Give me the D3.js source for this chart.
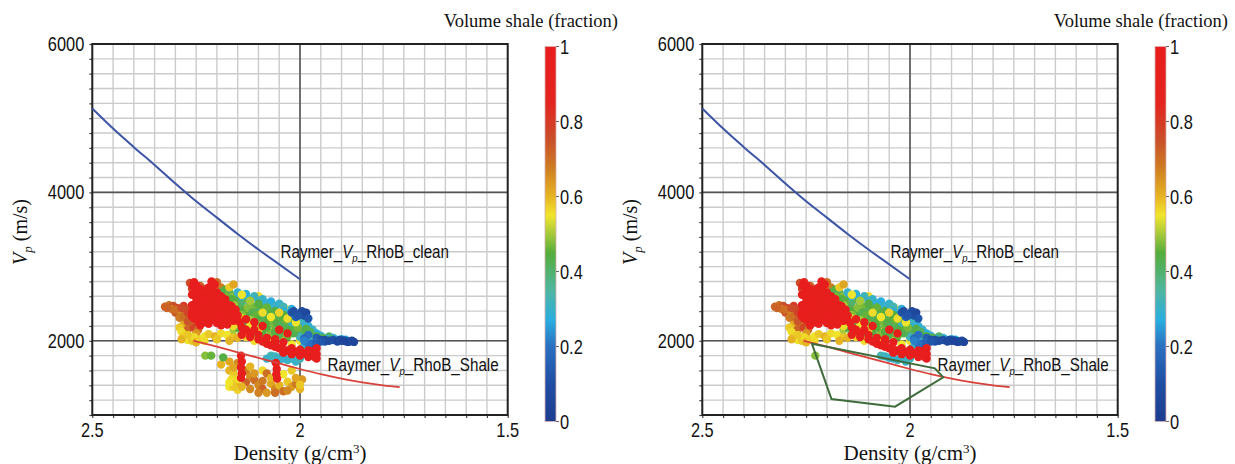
<!DOCTYPE html>
<html>
<head>
<meta charset="utf-8">
<script src="https://cdn.jsdelivr.net/npm/d3@7"></script>
<style>
  body { margin: 0; background: #fff; }
  .tick-num { font-family: "Liberation Sans", Arial, sans-serif; font-size: 20px; fill: #111; }
  .serif { font-family: "Liberation Serif", "Times New Roman", serif; fill: #111; }
  .note { font-family: "Liberation Sans", Arial, sans-serif; font-size: 17.5px; fill: #111; }
</style>
</head>
<body>
<div id="chart"></div>
<script>
// tick labels
var xTickLabels = [2.5, 2, 1.5];
var yTickLabels = [2000, 4000, 6000];
var cbTickLabels = [0, 0.2, 0.4, 0.6, 0.8, 1];

// colour map of volume shale
var cmapStops = [0, 0.1, 0.2, 0.27, 0.35, 0.45, 0.5, 0.55, 0.6, 0.68, 0.75, 0.85, 1];
var cmapColors = ["#1d3c8f", "#1f4ea3", "#2a6fc0", "#2aaee0", "#4fb6a0", "#55ad3a", "#a5c93a",
                  "#f1e52c", "#e6b422", "#cd7a22", "#c9502a", "#e3241f", "#e81c1c"];

// Raymer trend lines  [density, Vp]
var raymerClean = [[2.5, 5130], [2.45, 4860], [2.4, 4610], [2.35, 4370], [2.3, 4120], [2.25, 3880],
                   [2.2, 3660], [2.15, 3440], [2.1, 3230], [2.05, 3030], [2.0, 2830]];
var raymerShale = [[2.256, 2000], [2.2, 1920], [2.15, 1845], [2.1, 1770], [2.05, 1695], [2.0, 1620],
                   [1.95, 1550], [1.9, 1490], [1.85, 1440], [1.8, 1400], [1.76, 1375]];

// polygon drawn on the right panel [density, Vp]
var shalePolygon = [[2.236, 1960], [1.94, 1629], [1.92, 1508], [2.036, 1112], [2.189, 1216]];

// well log points [density, Vp, Vsh]
var orangeLeft = [[2.325,2460,0.72],[2.315,2480,0.7],[2.305,2470,0.75],[2.31,2430,0.68],[2.295,2440,0.78],
  [2.29,2400,0.7],[2.3,2380,0.74],[2.285,2360,0.66],[2.28,2470,0.8],[2.275,2420,0.76],[2.27,2330,0.72],
  [2.29,2310,0.68],[2.275,2280,0.74],[2.26,2250,0.7],[2.265,2200,0.66],[2.28,2220,0.62],[2.27,2150,0.72],
  [2.255,2180,0.78],[2.245,2150,0.7],[2.25,2100,0.64],[2.265,2780,0.76],[2.24,2740,0.72],[2.2,2790,0.7],
  [2.19,2720,0.68],[2.23,2700,0.74],[2.26,2700,0.78],[2.32,2440,0.72],[2.3,2420,0.7],[2.285,2440,0.76],
  [2.28,2330,0.7],[2.27,2380,0.78],[2.27,2260,0.74]];
var yellowLow = [[2.29,2180,0.58],[2.285,2120,0.56],[2.28,2060,0.57],[2.27,2010,0.55],[2.285,2020,0.6],
  [2.26,2000,0.58],[2.255,2050,0.56],[2.25,1980,0.6],[2.24,2020,0.57],[2.23,2060,0.55],[2.22,2090,0.58],
  [2.205,2060,0.6],[2.19,2100,0.56],[2.175,2080,0.55],[2.16,2060,0.58],[2.15,2040,0.6],[2.12,2300,0.56],
  [2.08,2250,0.58],[2.06,2150,0.55],[2.1,2600,0.56],[2.14,2470,0.58],[2.03,2420,0.56],[2.04,2050,0.58],
  [2.0,2000,0.56],[1.98,1950,0.6]];
var yellowMid = [[2.17,2350,0.55],[2.16,2200,0.56],[2.14,2300,0.57],[2.12,2200,0.55],[2.1,2150,0.58],
  [2.09,2380,0.56],[2.07,2320,0.55],[2.05,2380,0.57],[2.03,2300,0.56],[2.01,2250,0.55],[2.11,2000,0.56],
  [2.07,1980,0.58],[2.02,1950,0.55],[2.13,2050,0.57],[2.17,2000,0.6],[2.2,2020,0.58],[2.23,2000,0.56],
  [2.27,2080,0.58],[2.14,2620,0.55],[2.17,2720,0.58],[2.16,2760,0.62]];
var lowerScatter = [[2.17,1600,0.6],[2.16,1560,0.58],[2.165,1480,0.56],[2.155,1420,0.62],[2.17,1380,0.55],
  [2.15,1340,0.57],[2.13,1600,0.68],[2.12,1520,0.65],[2.11,1470,0.7],[2.1,1400,0.66],[2.09,1350,0.72],
  [2.08,1300,0.64],[2.07,1420,0.62],[2.06,1350,0.66],[2.05,1400,0.6],[2.04,1320,0.7],[2.03,1450,0.58],
  [2.02,1380,0.63],[2.01,1420,0.68],[2.0,1350,0.6],[1.995,1480,0.64],[2.12,1650,0.6],[2.09,1600,0.56],
  [2.08,1560,0.7],[2.04,1550,0.55],[2.02,1600,0.58],[2.13,1440,0.72],[2.1,1300,0.67],[2.15,1700,0.66],
  [2.19,1680,0.6],[2.17,1720,0.62],[2.228,1800,0.48],[2.214,1800,0.46],[2.185,1777,0.44],
  [2.16,1640,0.62],[2.14,1380,0.6],[2.12,1350,0.66],[2.11,1560,0.64],[2.09,1460,0.68],[2.07,1500,0.6],
  [2.06,1300,0.7],[2.03,1330,0.66],[2.01,1500,0.62],[2.0,1410,0.58],[2.15,1480,0.56],[2.16,1380,0.58],
  [2.17,1440,0.55]];
var greenBand = [[2.18,2690,0.45],[2.17,2650,0.42],[2.16,2600,0.48],[2.15,2550,0.44],[2.14,2520,0.4],
  [2.13,2580,0.46],[2.12,2490,0.43],[2.11,2450,0.47],[2.1,2400,0.42],[2.09,2470,0.45],[2.08,2380,0.41],
  [2.07,2420,0.44],[2.06,2350,0.46],[2.05,2300,0.43],[2.04,2260,0.45],[2.03,2210,0.42],[2.02,2180,0.44],
  [2.01,2150,0.46],[2.0,2120,0.4],[1.99,2100,0.42],[2.12,2350,0.44],[2.1,2300,0.46],[2.08,2250,0.43],
  [2.06,2200,0.47],[2.04,2150,0.44],[2.15,2250,0.45],[2.13,2200,0.42],[2.11,2150,0.48],[2.09,2100,0.44],
  [2.07,2050,0.46],[2.16,2150,0.5],[2.14,2100,0.47],[2.17,2400,0.46],[2.16,2320,0.48],[1.97,2080,0.42],
  [1.95,2050,0.4],[1.93,2060,0.41]];
var greenFill = [[2.165,2560,0.44],[2.155,2480,0.46],[2.145,2440,0.42],[2.135,2400,0.45],[2.125,2440,0.48],
  [2.115,2380,0.43],[2.105,2340,0.46],[2.095,2300,0.44],[2.085,2320,0.42],[2.075,2280,0.45],[2.065,2260,0.47],
  [2.055,2240,0.44],[2.045,2210,0.42],[2.035,2280,0.46],[2.025,2120,0.45],[2.015,2100,0.43],[2.005,2180,0.47],
  [2.15,2180,0.44],[2.13,2140,0.46],[2.11,2100,0.42],[2.09,2060,0.45],[2.07,2110,0.48],[2.05,2080,0.43],
  [2.03,2060,0.46],[2.16,2480,0.5],[2.14,2350,0.48],[2.12,2280,0.5],[2.1,2220,0.47],[2.08,2180,0.45],
  [2.06,2120,0.44],[2.18,2600,0.47],[2.17,2540,0.45],[2.19,2650,0.43],[1.985,2160,0.44],[1.975,2120,0.42],
  [1.96,2060,0.45],[1.945,2040,0.43],[1.925,2020,0.4],[2.12,2540,0.5],[2.1,2500,0.44],[2.08,2450,0.46],
  [2.06,2400,0.44],[2.04,2350,0.45],[2.02,2300,0.43]];
var cyanBand = [[2.15,2650,0.3],[2.13,2630,0.28],[2.11,2600,0.32],[2.09,2560,0.3],[2.07,2530,0.27],
  [2.05,2500,0.3],[2.04,2460,0.33],[2.02,2430,0.28],[2.06,2420,0.32],[2.03,2370,0.3],[2.01,2330,0.27],
  [2.0,2280,0.3],[1.99,2250,0.33],[1.98,2200,0.28],[2.02,2250,0.31],[2.05,2200,0.34],[1.97,2150,0.3],
  [1.96,2100,0.27],[1.95,2070,0.3],[1.94,2030,0.28],[1.92,2040,0.3],[1.9,2020,0.26],[2.0,2050,0.32],
  [1.98,2000,0.3],[2.07,1800,0.33],[2.05,1770,0.3],[2.03,1740,0.32],[2.01,1720,0.3],[2.06,1720,0.31],
  [2.04,1850,0.29],[2.02,1800,0.3],[2.0,1870,0.28],[1.99,1920,0.31],[2.14,2600,0.3],[2.12,2560,0.29],
  [2.1,2540,0.31],[2.08,2500,0.28],[2.06,2470,0.3],[2.04,2400,0.29],[2.02,2350,0.3],[2.0,2310,0.31],
  [1.99,2200,0.29],[1.98,2150,0.3],[1.97,2100,0.28],[1.96,2020,0.3],[1.95,2000,0.29],[1.93,2020,0.27],
  [1.91,2010,0.29],[1.89,2015,0.26],[2.08,1760,0.3],[2.06,1790,0.31],[2.04,1760,0.29],[2.02,1760,0.3],
  [2.0,1760,0.32],[2.05,1740,0.3]];
var blueTail = [[2.02,2380,0.12],[2.0,2360,0.08],[1.99,2340,0.1],[1.985,2380,0.06],[2.01,2320,0.15],
  [1.98,2300,0.12],[1.96,2040,0.15],[1.95,2010,0.1],[1.94,1990,0.12],[1.93,2000,0.08],[1.92,2010,0.1],
  [1.91,1990,0.06],[1.9,2000,0.08],[1.89,1995,0.05],[1.88,1990,0.08],[1.875,2000,0.06],[1.87,1985,0.05],
  [1.96,1980,0.18],[1.98,2080,0.2],[1.97,1960,0.15],[1.99,2030,0.18],[2.015,2400,0.1],[1.995,2400,0.07],
  [2.005,2340,0.12],[1.905,2010,0.08],[1.885,1985,0.06],[1.895,2005,0.05],[1.94,2010,0.1],[1.95,1990,0.13],
  [1.98,1960,0.2],[1.99,2000,0.22]];
var redLow = [[2.1,2020,0.95],[2.09,1990,0.92],[2.08,1960,0.95],[2.07,1940,0.98],[2.06,1920,0.95],
  [2.05,1900,0.97],[2.04,1880,0.95],[2.03,1870,0.98],[2.02,1860,0.96],[2.01,1850,0.95],[2.0,1840,0.97],
  [1.99,1830,0.95],[1.98,1820,0.98],[1.97,1810,0.96],[1.965,1780,0.95],[1.96,1760,0.97],[2.0,1800,0.96],
  [2.02,1820,0.95],[2.04,1840,0.97],[1.98,1780,0.95],[1.97,1860,0.98],[1.96,1900,0.95],[2.12,2050,0.95],
  [2.14,2080,0.93],[2.11,2150,0.96],[2.06,2020,0.94],[2.04,1980,0.96],[2.142,1800,0.95],[2.14,1720,0.96],
  [2.142,1640,0.95],[2.14,1560,0.97],[2.142,1500,0.95],[2.058,1700,0.96],[2.056,1620,0.95],
  [2.057,1550,0.97],[2.055,1490,0.95],[2.12,2100,0.96],[2.1,2080,0.95],[2.08,2040,0.97],[2.06,1980,0.95],
  [2.02,1900,0.96],[2.0,1880,0.95],[1.98,1870,0.97],[1.97,1840,0.95],[1.96,1820,0.96],[2.13,2150,0.95],
  [2.11,2250,0.96],[2.09,2200,0.95],[2.05,2150,0.96],[2.03,2100,0.95]];
var redCore = [[2.255,2790,0.95],[2.258,2740,0.97],[2.25,2700,0.95],[2.245,2650,0.98],[2.26,2620,0.95],
  [2.25,2580,0.97],[2.24,2600,0.95],[2.235,2550,0.98],[2.25,2520,0.96],[2.26,2480,0.95],[2.245,2460,0.97],
  [2.23,2500,0.95],[2.22,2550,0.98],[2.215,2620,0.95],[2.212,2700,0.97],[2.213,2800,0.95],[2.205,2760,0.96],
  [2.2,2650,0.95],[2.195,2580,0.97],[2.205,2520,0.95],[2.21,2470,0.98],[2.22,2420,0.95],[2.235,2400,0.97],
  [2.25,2420,0.95],[2.26,2380,0.96],[2.245,2340,0.95],[2.23,2320,0.97],[2.215,2360,0.95],[2.2,2400,0.98],
  [2.19,2450,0.95],[2.18,2500,0.97],[2.175,2430,0.95],[2.185,2370,0.96],[2.2,2320,0.95],[2.215,2280,0.97],
  [2.23,2250,0.95],[2.245,2270,0.98],[2.255,2300,0.95],[2.2,2240,0.97],[2.185,2280,0.95],[2.17,2330,0.96],
  [2.165,2380,0.95],[2.16,2270,0.97],[2.175,2220,0.95],[2.155,2420,0.96],[2.15,2340,0.95],[2.23,2600,0.97],
  [2.225,2680,0.95],[2.24,2480,0.96],[2.21,2560,0.95],[2.19,2520,0.97],[2.225,2370,0.95],[2.24,2210,0.96],
  [2.26,2330,0.95],[2.145,2250,0.97],[2.13,2290,0.95],[2.14,2180,0.96],[2.25,2620,0.97],[2.24,2560,0.95],
  [2.23,2450,0.96],[2.22,2480,0.95],[2.21,2400,0.97],[2.2,2470,0.95],[2.19,2390,0.96],[2.18,2440,0.95],
  [2.17,2480,0.97],[2.21,2320,0.95],[2.195,2350,0.96],[2.24,2380,0.95],[2.25,2360,0.97],[2.235,2290,0.95],
  [2.22,2230,0.96],[2.19,2210,0.95],[2.2,2550,0.97],[2.215,2500,0.95],[2.23,2560,0.96],[2.245,2500,0.95],
  [2.255,2440,0.97],[2.21,2650,0.95],[2.22,2720,0.96],[2.24,2700,0.95],[2.25,2750,0.97],[2.19,2600,0.95],
  [2.18,2560,0.96],[2.165,2470,0.95],[2.16,2330,0.97],[2.17,2270,0.95]];

var groups = [orangeLeft, yellowLow, lowerScatter, greenBand, cyanBand, greenFill, yellowMid, blueTail, redLow, redCore];

var W = 1235, H = 464;
var svg = d3.select("#chart").append("svg").attr("width", W).attr("height", H);

var x = d3.scaleLinear().domain([2.5, 1.5]).range([92.3, 507.7]);
var y = d3.scaleLinear().domain([1000, 6000]).range([415, 44]);
var cb = d3.scaleLinear().domain([0, 1]).range([421.5, 46.5]);
var color = d3.scaleLinear().domain(cmapStops).range(cmapColors);

var xGrid = d3.range(0, 21).map(function(i) { return +(1.5 + i * 0.05).toFixed(2); });
var yGrid = d3.range(1000, 6001, 200);

// horizontally squeezed sans text (the figure uses a narrow face)
function narrow(sel, px, py, sx) {
  return sel.append("text").attr("transform", "translate(" + px + "," + py + ") scale(" + sx + ",1)");
}

// gradient for the colour bars
var grad = svg.append("defs").append("linearGradient")
  .attr("id", "vshGrad").attr("x1", 0).attr("y1", 1).attr("x2", 0).attr("y2", 0);
grad.selectAll("stop").data(cmapStops).enter().append("stop")
  .attr("offset", function(d) { return d; })
  .attr("stop-color", function(d, i) { return cmapColors[i]; });

var panelOffsets = [0, 610];

panelOffsets.forEach(function(off, pi) {
  var g = svg.append("g").attr("transform", "translate(" + off + ",0)");

  g.append("clipPath").attr("id", "clip" + pi).append("rect")
    .attr("x", x(2.5)).attr("y", y(6000))
    .attr("width", x(1.5) - x(2.5)).attr("height", y(1000) - y(6000));

  // minor grid
  g.append("g").selectAll("line").data(xGrid).enter().append("line")
    .attr("x1", function(d) { return x(d); }).attr("x2", function(d) { return x(d); })
    .attr("y1", y(6000)).attr("y2", y(1000))
    .attr("stroke", "#cbcbcb").attr("stroke-width", 1.4);
  g.append("g").selectAll("line").data(yGrid).enter().append("line")
    .attr("y1", function(d) { return y(d); }).attr("y2", function(d) { return y(d); })
    .attr("x1", x(2.5)).attr("x2", x(1.5))
    .attr("stroke", "#cbcbcb").attr("stroke-width", 1.4);

  // major grid
  g.append("line").attr("x1", x(2)).attr("x2", x(2)).attr("y1", y(6000)).attr("y2", y(1000))
    .attr("stroke", "#555").attr("stroke-width", 1.6);
  g.append("g").selectAll("line").data([2000, 4000]).enter().append("line")
    .attr("y1", function(d) { return y(d); }).attr("y2", function(d) { return y(d); })
    .attr("x1", x(2.5)).attr("x2", x(1.5))
    .attr("stroke", "#555").attr("stroke-width", 1.6);

  // axes (small ticks at every grid line, labels at majors)
  var xAxis = g.append("g").attr("transform", "translate(0," + y(1000) + ")")
    .call(d3.axisBottom(x).tickValues(xGrid).tickSize(3).tickFormat(""));
  var yAxis = g.append("g").attr("transform", "translate(" + x(2.5) + ",0)")
    .call(d3.axisLeft(y).tickValues(yGrid).tickSize(3).tickFormat(""));
  [xAxis, yAxis].forEach(function(a) {
    a.select(".domain").remove();
    a.selectAll(".tick line").attr("stroke", "#444").attr("stroke-width", 1.2);
  });

  // frame
  g.append("rect").attr("x", x(2.5)).attr("y", y(6000))
    .attr("width", x(1.5) - x(2.5)).attr("height", y(1000) - y(6000))
    .attr("fill", "none").attr("stroke", "#222").attr("stroke-width", 2);

  xTickLabels.forEach(function(d) {
    narrow(g, x(d), 437, 0.82).attr("class", "tick-num").attr("text-anchor", "middle").text(d);
  });
  yTickLabels.forEach(function(d) {
    narrow(g, x(2.5) - 8, y(d) + 7, 0.82).attr("class", "tick-num").attr("text-anchor", "end").text(d);
  });

  // axis titles
  var xt = g.append("text").attr("class", "serif").attr("x", x(2)).attr("y", 460)
    .attr("text-anchor", "middle").style("font-size", "21px");
  xt.append("tspan").text("Density (g/cm");
  xt.append("tspan").attr("dy", -7).style("font-size", "13px").text("3");
  xt.append("tspan").attr("dy", 7).text(")");

  var yt = g.append("text").attr("class", "serif")
    .attr("transform", "translate(27," + 232 + ") rotate(-90)")
    .attr("text-anchor", "middle").style("font-size", "20px");
  yt.append("tspan").style("font-style", "italic").text("V");
  yt.append("tspan").attr("dy", 5).style("font-style", "italic").style("font-size", "13px").text("p");
  yt.append("tspan").attr("dy", -5).text(" (m/s)");

  // trend lines
  var line = d3.line().x(function(d) { return x(d[0]); }).y(function(d) { return y(d[1]); }).curve(d3.curveMonotoneX);
  g.append("path").datum(raymerClean).attr("d", line)
    .attr("fill", "none").attr("stroke", "#3d55a5").attr("stroke-width", 2);

  // scatter points (right panel: points inside the polygon are left out)
  var poly = shalePolygon.map(function(p) { return [x(p[0]), y(p[1])]; });
  var pts = g.append("g").attr("clip-path", "url(#clip" + pi + ")");
  groups.forEach(function(grp) {
    var data = pi === 0 ? grp : grp.filter(function(d) { return !d3.polygonContains(poly, [x(d[0]), y(d[1])]); });
    pts.append("g").selectAll("circle").data(data).enter().append("circle")
      .attr("cx", function(d) { return x(d[0]); })
      .attr("cy", function(d) { return y(d[1]); })
      .attr("r", 4.2)
      .attr("fill", function(d) { return color(d[2]); });
  });

  g.append("path").datum(raymerShale).attr("d", line)
    .attr("fill", "none").attr("stroke", "#d9423a").attr("stroke-width", 1.8);

  if (pi === 1) {
    g.append("path").datum(shalePolygon)
      .attr("d", d3.line().x(function(d) { return x(d[0]); }).y(function(d) { return y(d[1]); }).curve(d3.curveLinearClosed))
      .attr("fill", "none").attr("stroke", "#3f6b3a").attr("stroke-width", 2);
  }

  // line labels
  [["_RhoB_clean", 2.047, 3110], ["_RhoB_Shale", 1.9336, 1593]].forEach(function(l) {
    var t = narrow(g, x(l[1]), y(l[2]), 0.87).attr("class", "note");
    t.append("tspan").text("Raymer_");
    t.append("tspan").style("font-style", "italic").text("V");
    t.append("tspan").attr("dy", 4).style("font-size", "11px").style("font-style", "italic").text("p");
    t.append("tspan").attr("dy", -4).text(l[0]);
  });

  // colour bar
  g.append("rect").attr("x", 545).attr("y", cb(1)).attr("width", 11).attr("height", cb(0) - cb(1))
    .attr("fill", "url(#vshGrad)").attr("stroke", "#d8b0b0").attr("stroke-width", 0.8);
  g.append("g").selectAll("line").data(cbTickLabels).enter().append("line")
    .attr("x1", 556).attr("x2", 559)
    .attr("y1", function(d) { return cb(d); }).attr("y2", function(d) { return cb(d); })
    .attr("stroke", "#666");
  cbTickLabels.forEach(function(d) {
    narrow(g, 560, cb(d) + 7, 0.82).attr("class", "tick-num").text(d);
  });
  g.append("text").attr("class", "serif").attr("x", 618).attr("y", 27)
    .attr("text-anchor", "end").style("font-size", "18.5px").text("Volume shale (fraction)");
});
</script>
</body>
</html>
